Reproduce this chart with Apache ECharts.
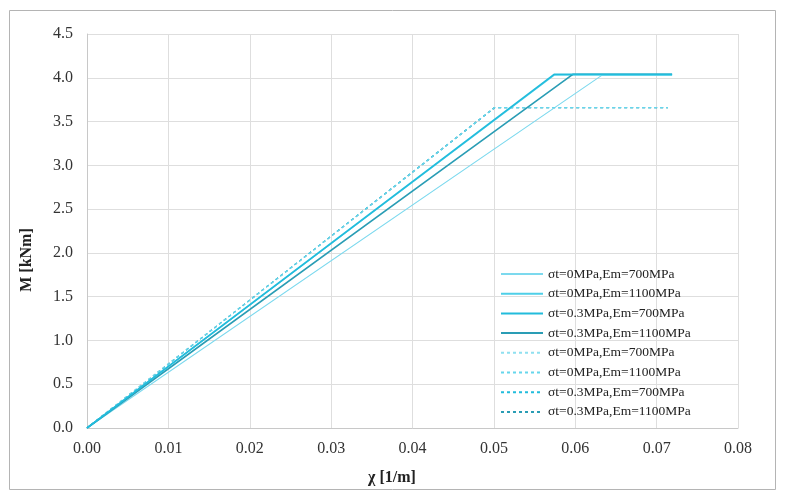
<!DOCTYPE html>
<html>
<head>
<meta charset="utf-8">
<script src="https://cdn.jsdelivr.net/npm/echarts@6/dist/echarts.min.js"></script>
<style>
html,body{margin:0;padding:0;background:#fff;}
#chart{width:787px;height:500px;}
</style>
</head>
<body>
<div id="chart"></div>
<script>
// Series names
var seriesNames = [
  'σt=0MPa,Em=700MPa',
  'σt=0MPa,Em=1100MPa',
  'σt=0.3MPa,Em=700MPa',
  'σt=0.3MPa,Em=1100MPa',
  'σt=0MPa,Em=700MPa ',
  'σt=0MPa,Em=1100MPa ',
  'σt=0.3MPa,Em=700MPa ',
  'σt=0.3MPa,Em=1100MPa '
];
// curvature points (1/m) for each series: origin, yield, end
var chi1 = [0, 0.0633, 0.0719];
var chi2 = [0, 0.0574, 0.0719];
var chi3 = [0, 0.0574, 0.0719];
var chi4 = [0, 0.0597, 0.0719];
var chi5 = [0, 0.0501, 0.0714];
var chi6 = [0, 0.0501, 0.0714];
var chi7 = [0, 0.0501, 0.0714];
var chi8 = [0, 0.0501, 0.0714];
// moments (kNm)
var m1 = [0, 4.03, 4.03];
var m2 = [0, 4.03, 4.03];
var m3 = [0, 4.04, 4.04];
var m4 = [0, 4.04, 4.04];
var m5 = [0, 3.66, 3.66];
var m6 = [0, 3.66, 3.66];
var m7 = [0, 3.66, 3.66];
var m8 = [0, 3.66, 3.66];
// axis ticks
var xTicks = [0, 0.01, 0.02, 0.03, 0.04, 0.05, 0.06, 0.07, 0.08];
var yTicks = [0, 0.5, 1.0, 1.5, 2.0, 2.5, 3.0, 3.5, 4.0, 4.5];

var chis = [chi1, chi2, chi3, chi4, chi5, chi6, chi7, chi8];
var ms = [m1, m2, m3, m4, m5, m6, m7, m8];
var colors = ['#7cd9ee', '#4ecfe8', '#22bcdc', '#2a9db5', '#8fe0f0', '#66d6ec', '#22bcdc', '#2a9db5'];
var widths = [1.1, 1.3, 1.6, 1.6, 1, 1.1, 1.3, 1.3];
var zs = [3, 4, 5, 4, 2, 3, 1, 1];

function pairs(a, b) { return a.map(function (v, i) { return [v, b[i]]; }); }

var series = seriesNames.map(function (n, i) {
  return {
    name: n,
    type: 'line',
    symbol: 'none',
    showSymbol: false,
    animation: false,
    data: pairs(chis[i], ms[i]),
    lineStyle: { color: colors[i], width: widths[i], type: i >= 4 ? [3, 3] : 'solid' },
    itemStyle: { color: colors[i] },
    z: zs[i]
  };
});

var font = 'Liberation Serif, Times New Roman, serif';
var chart = echarts.init(document.getElementById('chart'), null, { renderer: 'canvas' });
chart.setOption({
  animation: false,
  backgroundColor: '#fff',
  grid: { left: 87, right: 49, top: 34, bottom: 72, containLabel: false },
  xAxis: {
    type: 'value', min: xTicks[0], max: xTicks[xTicks.length - 1], interval: 0.01,
    axisLine: { show: true, lineStyle: { color: '#c8c8c8', width: 1 } },
    axisTick: { show: false },
    splitLine: { show: true, lineStyle: { color: '#dedede', width: 1 } },
    axisLabel: { fontFamily: font, fontSize: 16, color: '#333', margin: 13,
      formatter: function (v) { return v.toFixed(2); } }
  },
  yAxis: {
    type: 'value', min: yTicks[0], max: yTicks[yTicks.length - 1], interval: 0.5,
    axisLine: { show: true, lineStyle: { color: '#c8c8c8', width: 1 } },
    axisTick: { show: false },
    splitLine: { show: true, lineStyle: { color: '#dedede', width: 1 } },
    axisLabel: { fontFamily: font, fontSize: 16, color: '#333', margin: 14,
      formatter: function (v) { return v.toFixed(1); } }
  },
  legend: {
    orient: 'vertical',
    left: 495, top: 262,
    itemWidth: 42, itemHeight: 14, itemGap: 5.7,
    itemStyle: { opacity: 0 },
    textStyle: { fontFamily: font, fontSize: 13.5, color: '#222' },
    data: seriesNames
  },
  graphic: [
    { type: 'rect', shape: { x: 9.5, y: 10.5, width: 766, height: 479 },
      style: { fill: 'none', stroke: '#b4b4b4', lineWidth: 1 }, silent: true },
    { type: 'text', left: 368, top: 470,
      style: { text: 'χ [1/m]', font: 'bold 16px ' + font, fill: '#222' } },
    { type: 'text', x: 27, y: 260, rotation: Math.PI / 2, originX: 0, originY: 0,
      style: { text: 'M [kNm]', font: 'bold 16px ' + font, fill: '#222', align: 'center', verticalAlign: 'middle' } }
  ],
  series: series
});
</script>
</body>
</html>
